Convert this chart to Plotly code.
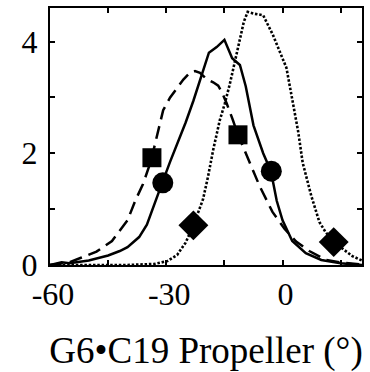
import plotly.graph_objects as go

# Solid curve (circles)
solid_x = [-60, -57, -55, -50, -45, -42, -40, -37, -35, -33, -31, -29, -27, -25, -23, -21,
           -19, -17, -15, -13, -11, -9.5, -7.5, -5, -3, -1.5, 0, 2.5, 6, 10, 15, 20.5]
solid_y = [0, 0.05, 0.03, 0.08, 0.17, 0.25, 0.32, 0.5, 0.72, 1.12, 1.48, 1.85, 2.2, 2.55, 2.94, 3.35,
           3.8, 3.9, 4.03, 3.7, 3.58, 3.2, 2.5, 2.0, 1.68, 1.15, 0.8, 0.43, 0.21, 0.09, 0.03, 0.0]

# Dashed curve (squares)
dash_x = [-60, -57, -55, -52, -48, -44, -42, -40, -38, -36, -34, -32.3, -30.8, -29, -27.3, -25.6,
          -23.8, -22.6, -21.3, -19.6, -17.9, -16.6, -15.7, -14.4, -12.8, -11.5, -10.2, -8.5, -5.9,
          -2.6, 0.5, 3.5, 6.9, 11.2, 15.4, 20.5]
dash_y = [0, 0.03, 0.05, 0.13, 0.24, 0.43, 0.62, 0.8, 1.15, 1.45, 1.85, 2.36, 2.77, 3.0, 3.15, 3.32,
          3.45, 3.47, 3.44, 3.33, 3.27, 3.21, 3.1, 2.89, 2.59, 2.33, 2.12, 1.83, 1.41,
          0.95, 0.65, 0.42, 0.25, 0.09, 0.04, 0.01]

# Dotted curve (diamonds)
dot_x = [-60, -40, -33, -29.7, -27.2, -25, -23, -22, -20.5, -19.2, -17.9, -16.2, -14.9, -13.6, -12,
         -11, -10, -9, -7.5, -5, -2.5, 1, 4, 5.2, 7.4, 9.5, 11, 13.2, 16.4, 18, 20.5]
dot_y = [0, 0, 0.02, 0.07, 0.18, 0.4, 0.71, 0.89, 1.18, 1.59, 2.06, 2.59, 2.89, 3.24, 3.75,
         4.06, 4.35, 4.53, 4.5, 4.47, 4.12, 3.53, 2.4, 1.83, 1.24, 0.77, 0.6, 0.41, 0.24, 0.16, 0.08]

# Markers
sq_x = [-33.7, -11.5]
sq_y = [1.92, 2.33]
ci_x = [-30.9, -2.9]
ci_y = [1.47, 1.68]
di_x = [-23, 13.2]
di_y = [0.71, 0.41]

x_tickvals = [-60, -45, -30, -15, 0, 15]
x_ticktext = ["-60", "", "-30", "", "0", ""]
y_tickvals = [0, 1, 2, 3, 4]
y_ticktext = ["0", "", "2", "", "4"]

fig = go.Figure()
fig.add_trace(go.Scatter(x=dash_x, y=dash_y, mode="lines",
                         line=dict(color="black", width=2.5, dash="13px,7px")))
fig.add_trace(go.Scatter(x=solid_x, y=solid_y, mode="lines",
                         line=dict(color="black", width=2.5)))
fig.add_trace(go.Scatter(x=dot_x, y=dot_y, mode="lines",
                         line=dict(color="black", width=2.6, dash="2.5px,1.8px")))
fig.add_trace(go.Scatter(x=sq_x, y=sq_y, mode="markers",
                         marker=dict(symbol="square", size=19, color="black")))
fig.add_trace(go.Scatter(x=ci_x, y=ci_y, mode="markers",
                         marker=dict(symbol="circle", size=21, color="black")))
fig.add_trace(go.Scatter(x=di_x, y=di_y, mode="markers",
                         marker=dict(symbol="diamond", size=23, color="black")))

font_family = "Liberation Serif"
fig.update_layout(
    width=370, height=372,
    margin=dict(l=50, r=7, t=6, b=105),
    paper_bgcolor="white", plot_bgcolor="white",
    showlegend=False,
    font=dict(family=font_family, color="black", size=33),
    xaxis=dict(range=[-60, 20.5], tickvals=x_tickvals, ticktext=x_ticktext,
               ticks="inside", ticklen=5, tickwidth=2, tickcolor="black",
               showline=True, linewidth=2, linecolor="black", mirror="ticks",
               showgrid=False, zeroline=False, ticklabelstandoff=0, ticklabelshift=3,
               tickfont=dict(size=32, family=font_family),
               title=dict(text="G6•C19 Propeller (°)", font=dict(size=37, family=font_family),
                          standoff=28)),
    yaxis=dict(range=[0, 4.6], tickvals=y_tickvals, ticktext=y_ticktext,
               ticks="inside", ticklen=5, tickwidth=2, tickcolor="black",
               showline=True, linewidth=2, linecolor="black", mirror="ticks",
               showgrid=False, zeroline=False, ticklabelstandoff=4,
               tickfont=dict(size=32, family=font_family)),
)
fig.write_html("out.html")
